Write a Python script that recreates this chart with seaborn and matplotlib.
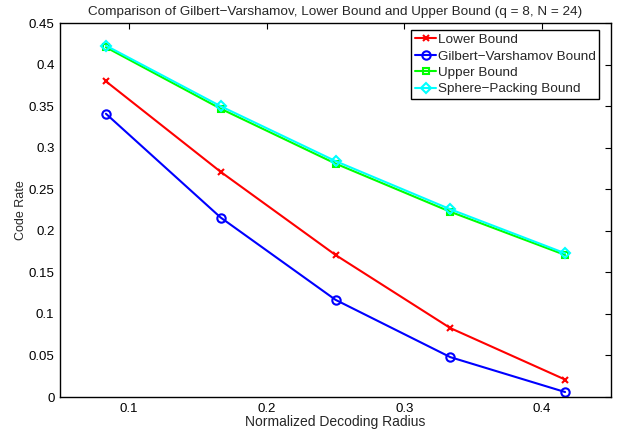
import matplotlib
matplotlib.use("Agg")
import matplotlib.pyplot as plt
import seaborn as sns
import pandas as pd

radius = [1/12, 2/12, 3/12, 4/12, 5/12]
lower_bound = [0.380, 0.271, 0.171, 0.083, 0.021]
gv_bound = [0.341, 0.216, 0.117, 0.048, 0.006]
upper_bound = [0.421, 0.347, 0.281, 0.223, 0.171]
sphere_packing = [0.423, 0.350, 0.284, 0.226, 0.173]

series_names = ["Lower Bound", "Gilbert\u2212Varshamov Bound", "Upper Bound", "Sphere\u2212Packing Bound"]
series_values = [lower_bound, gv_bound, upper_bound, sphere_packing]
colors = ["#ff0000", "#0000ff", "#00ff00", "#00ffff"]
markers = ["x", "o", "s", "D"]
msizes = [4.5, 6, 4.5, 5]

sns.set_style("white")
plt.rcParams["font.family"] = ["Liberation Sans", "DejaVu Sans"]

fig = plt.figure(figsize=(6.25, 4.37), dpi=100)
ax = fig.add_axes([0.096, 0.0915, 0.8816, 0.8555])

for name, vals, c, m, ms in zip(series_names, series_values, colors, markers, msizes):
    df = pd.DataFrame({"x": radius, "y": vals})
    sns.lineplot(data=df, x="x", y="y", ax=ax, color=c, marker=m, markersize=ms,
                 markerfacecolor="none", markeredgecolor=c, markeredgewidth=1.5,
                 linewidth=1.5, label=name)

ax.set_xlim(0.05, 0.45)
ax.set_ylim(0, 0.45)
ax.set_xticks([0.1, 0.2, 0.3, 0.4])
ax.set_xticklabels(["0.1", "0.2", "0.3", "0.4"])
yt = [0, 0.05, 0.1, 0.15, 0.2, 0.25, 0.3, 0.35, 0.4, 0.45]
ax.set_yticks(yt)
ax.set_yticklabels(["0", "0.05", "0.1", "0.15", "0.2", "0.25", "0.3", "0.35", "0.4", "0.45"])
ax.tick_params(direction="in", length=4, width=0.8, top=True, right=True,
               labelsize=9.5, colors="black", pad=4)
for s in ax.spines.values():
    s.set_visible(True)
    s.set_color("black")
    s.set_linewidth(1.0)

ax.set_xlabel("Normalized Decoding Radius", fontsize=10, labelpad=0)
ax.set_ylabel("Code Rate", fontsize=9, labelpad=1)
ax.set_title("Comparison of Gilbert\u2212Varshamov, Lower Bound and Upper Bound (q = 8, N = 24)",
             fontsize=9.7, pad=6)

leg = ax.legend(loc="upper right", bbox_to_anchor=(0.978, 0.981), borderaxespad=0,
                fontsize=9.7, frameon=True, fancybox=False,
                edgecolor="black", framealpha=1, handlelength=1.6, handletextpad=0.1,
                borderpad=0.25, labelspacing=0.3)
leg.get_frame().set_linewidth(1.0)

fig.savefig("out.png", dpi=100)
